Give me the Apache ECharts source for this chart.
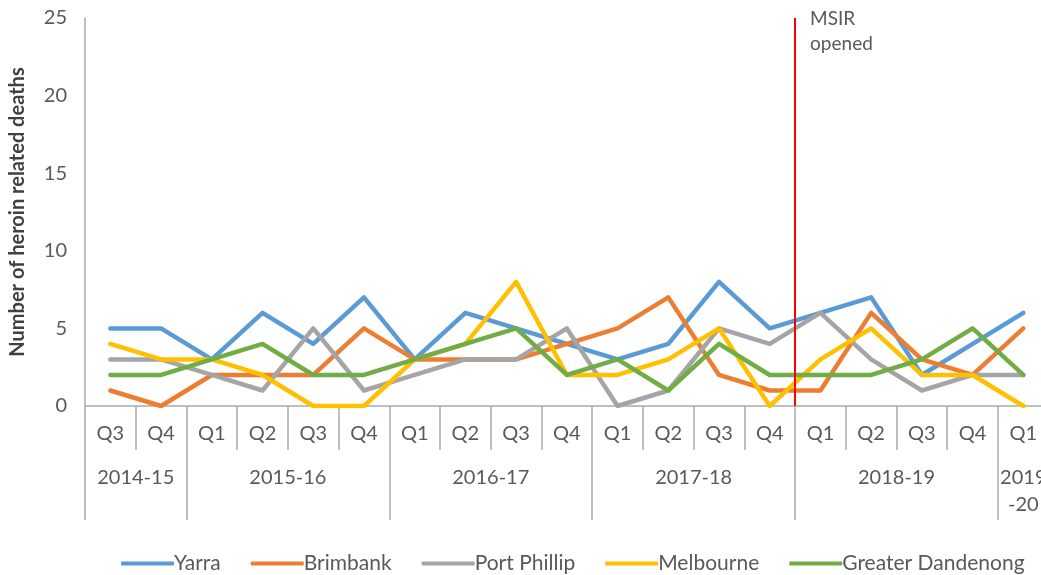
<!DOCTYPE html>
<html>
<head>
<meta charset="utf-8">
<script src="https://cdn.jsdelivr.net/npm/echarts@6/dist/echarts.min.js"></script>
<style>
  html, body { margin: 0; padding: 0; background: #ffffff; overflow: hidden; }
  #chart { width: 1060px; height: 575px; }
</style>
</head>
<body>
<div id="chart"></div>
<script>
// Quarterly heroin-related deaths by local government area
const quarters = ['Q3','Q4','Q1','Q2','Q3','Q4','Q1','Q2','Q3','Q4','Q1','Q2','Q3','Q4','Q1','Q2','Q3','Q4','Q1'];
const yearLabels = ['2014-15','2015-16','2016-17','2017-18','2018-19','2019\n-20'];
const quartersPerYear = [2, 4, 4, 4, 4, 1];

const yarra       = [5,5,3,6,4,7,3,6,5,4,3,4,8,5,6,7,2,4,6];
const brimbank    = [1,0,2,2,2,5,3,3,3,4,5,7,2,1,1,6,3,2,5];
const portPhillip = [3,3,2,1,5,1,2,3,3,5,0,1,5,4,6,3,1,2,2];
const melbourne   = [4,3,3,2,0,0,3,4,8,2,2,3,5,0,3,5,2,2,0];
const dandenong   = [2,2,3,4,2,2,3,4,5,2,3,1,4,2,2,2,3,5,2];

const yTicks = { min: 0, max: 25, interval: 5 };
const msirYearIndex = 4; // room opened at the start of 2018-19
const msirLabel = 'MSIR\nopened';

// Year group boundaries and centres in category-index units
const yearBounds = [];
const yearCentres = [];
let start = 0;
quartersPerYear.forEach(n => {
  yearBounds.push(start - 0.5);
  yearCentres.push(start + (n - 1) / 2);
  start += n;
});
yearBounds.push(start - 0.5);
const msirPos = yearBounds[msirYearIndex];

const FONT = 'Lato, "Open Sans", sans-serif';
const TEXT = '#595959';
const AXIS = '#ababab';

const seriesDefs = [
  { name: 'Yarra', data: yarra, color: '#5B9BD5' },
  { name: 'Brimbank', data: brimbank, color: '#ED7D31' },
  { name: 'Port Phillip', data: portPhillip, color: '#A5A5A5' },
  { name: 'Melbourne', data: melbourne, color: '#FFC000' },
  { name: 'Greater Dandenong', data: dandenong, color: '#70AD47' }
];

const chart = echarts.init(document.getElementById('chart'), null, { renderer: 'canvas' });

const catWidth = 50.72;
chart.setOption({
  backgroundColor: '#ffffff',
  animation: false,
  textStyle: { fontFamily: FONT },
  grid: { left: 85, top: 18, width: catWidth * quarters.length, height: 388 },
  legend: {
    data: seriesDefs.map(s => s.name),
    left: 116,
    top: 548,
    icon: 'roundRect',
    itemWidth: 53,
    itemHeight: 4,
    itemGap: 30,
    textStyle: { color: TEXT, fontSize: 21, fontFamily: FONT, padding: [0, 0, 0, -5] }
  },
  xAxis: [
    {
      type: 'category',
      data: quarters,
      boundaryGap: true,
      axisLine: { show: true, lineStyle: { color: AXIS, width: 1.5 } },
      axisTick: { show: true, interval: 0, length: 44, lineStyle: { color: AXIS, width: 1.5 } },
      axisLabel: { interval: 0, color: TEXT, fontSize: 20, fontFamily: FONT, margin: 18 },
      splitLine: { show: false }
    },
    {
      type: 'value',
      position: 'bottom',
      min: yearBounds[0],
      max: yearBounds[yearBounds.length - 1],
      axisLine: { show: false },
      splitLine: { show: false },
      axisTick: {
        show: true,
        customValues: yearBounds,
        length: 114,
        lineStyle: { color: AXIS, width: 1.5 }
      },
      axisLabel: {
        customValues: yearCentres,
        formatter: v => {
          const i = yearCentres.indexOf(v);
          return i >= 0 ? yearLabels[i] : '';
        },
        color: TEXT,
        fontSize: 20,
        fontFamily: FONT,
        lineHeight: 27,
        margin: 58
      }
    }
  ],
  yAxis: {
    type: 'value',
    min: yTicks.min,
    max: yTicks.max,
    interval: yTicks.interval,
    name: 'Number of heroin related deaths',
    nameLocation: 'middle',
    nameGap: 57,
    nameTextStyle: { color: '#404040', fontSize: 20, fontWeight: 'bold', fontFamily: FONT },
    axisLine: { show: true, onZero: false, lineStyle: { color: AXIS, width: 1.5 } },
    axisTick: { show: false },
    axisLabel: { color: TEXT, fontSize: 20, fontFamily: FONT, margin: 18 },
    splitLine: { show: false }
  },
  series: seriesDefs.map(s => ({
    name: s.name,
    type: 'line',
    data: s.data,
    color: s.color,
    showSymbol: false,
    symbol: 'none',
    lineStyle: { width: 4.5, color: s.color, cap: 'round', join: 'round' }
  })).concat([{
    name: 'MSIR',
    type: 'line',
    xAxisIndex: 1,
    data: [[msirPos, 0]],
    symbol: 'none',
    lineStyle: { opacity: 0 },
    silent: true,
    markLine: {
      silent: true,
      symbol: ['none', 'none'],
      label: { show: false },
      lineStyle: { color: '#ff0000', width: 2, type: 'solid' },
      data: [{ xAxis: msirPos }]
    },
    markPoint: {
      silent: true,
      symbol: 'circle',
      symbolSize: 0,
      data: [{ coord: [msirPos, yTicks.max] }],
      label: {
        show: true,
        formatter: msirLabel,
        position: [15, -12],
        align: 'left',
        verticalAlign: 'top',
        color: TEXT,
        fontSize: 19,
        lineHeight: 25,
        fontFamily: FONT
      }
    }
  }])
});
</script>
</body>
</html>
